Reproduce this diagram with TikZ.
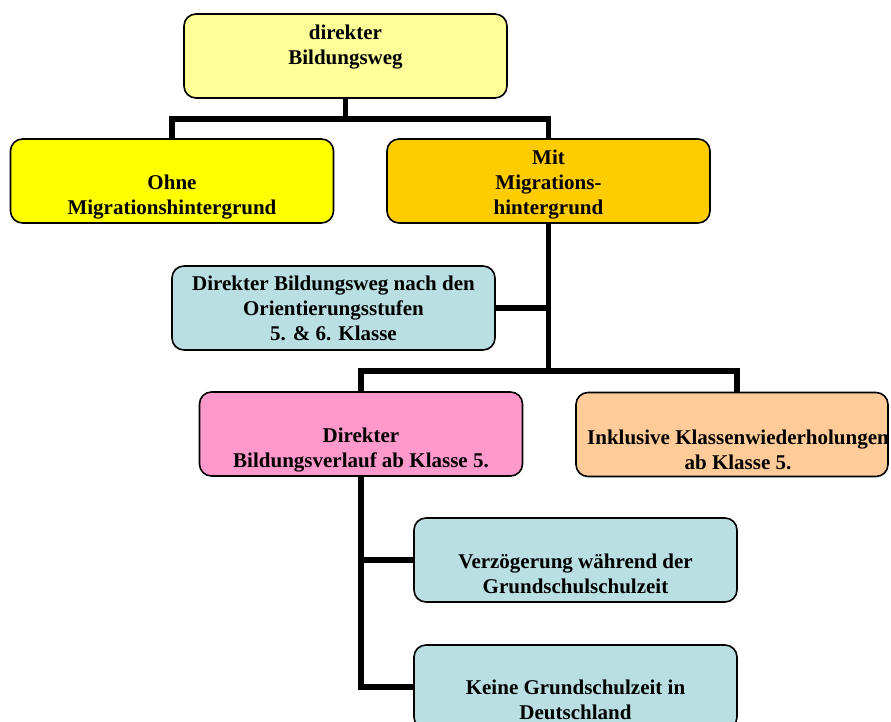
\documentclass[tikz,border=0pt]{standalone}
\usepackage{fontspec}
\setmainfont{Liberation Serif}
\begin{document}
\begin{tikzpicture}[x=1pt,y=-1pt,
  box/.style={draw=black, line width=1.6pt, rounded corners=12pt,
    minimum width=323pt, minimum height=84pt, inner sep=0pt},
  txt/.style={align=center, font=\fontsize{21}{25}\selectfont\bfseries, inner sep=0pt},
  conn/.style={line width=5.5pt, line join=miter}]
\definecolor{paleyellow}{HTML}{FFFF99}
\definecolor{brightyellow}{HTML}{FFFF00}
\definecolor{gold}{HTML}{FFCC00}
\definecolor{paleteal}{HTML}{B9DFE3}
\definecolor{pink}{HTML}{FF99CC}
\definecolor{peach}{HTML}{FFCC99}
\useasboundingbox (0,0) rectangle (891,722);

% boxes
\node[box, fill=paleyellow]   (top)   at (345.5,56)  {};
\node[box, fill=brightyellow] (ohne)  at (172,181)   {};
\node[box, fill=gold]         (mit)   at (548.5,181) {};
\node[box, fill=paleteal]     (dbw)   at (333.5,308) {};
\node[box, fill=pink]         (pink)  at (361,434)   {};
\node[box, fill=peach, minimum width=312pt] (peach) at (732,434.5) {};
\node[box, fill=paleteal]     (verz)  at (575.5,560) {};
\node[box, fill=paleteal]     (keine) at (575.5,687) {};

% labels
\node[txt] (ttop)   at (345.5,47) {direkter\\Bildungsweg};
\node[txt] (tohne)  at (172,197)  {Ohne\\Migrationshintergrund};
\node[txt] (tmit)   at (548.5,184.5) {Mit\\Migrations-\\hintergrund};
\node[txt] (tdbw)   at (333.5,308.5) {Direkter Bildungsweg nach den\\Orientierungsstufen\\5. \& 6. Klasse};
\node[txt] (tpink)  at (361,450)  {Direkter\\Bildungsverlauf ab Klasse 5.};
\node[txt] (tpeach) at (738,449.5)  {Inklusive Klassenwiederholungen\\ab Klasse 5.};
\node[txt] (tverz)  at (575.5,574) {Verzögerung während der\\Grundschulschulzeit};
\node[txt] (tkeine) at (575.5,700) {Keine Grundschulzeit in\\Deutschland};

% connectors
\coordinate (j1) at (345.5,119);
\coordinate (j2) at (548.5,371);
\draw[conn] (top.south) -- (j1);
\draw[conn] (ohne.north) |- (j1) -| (mit.north);
\draw[conn] (mit.south) -- (j2);
\draw[conn] (dbw.east) -- (dbw.east -| mit.south);
\draw[conn] (pink.north) |- (j2) -| ([xshift=5pt]peach.north);
\draw[conn] (pink.south) |- (keine.west);
\draw[conn] (pink.south |- verz.west) -- (verz.west);
\end{tikzpicture}
\end{document}
